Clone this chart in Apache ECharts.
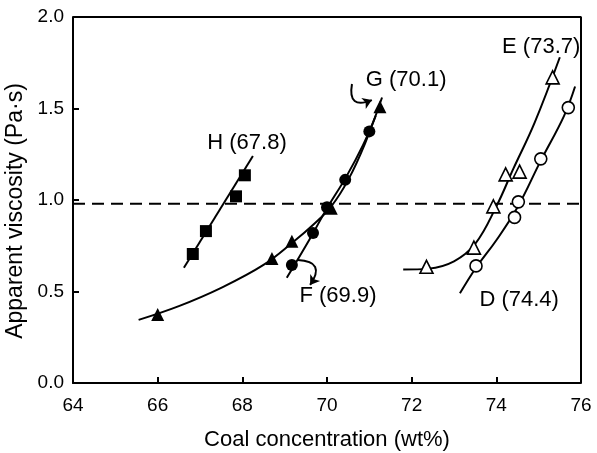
<!DOCTYPE html>
<html><head><meta charset="utf-8">
<script src="https://cdn.jsdelivr.net/npm/echarts@6/dist/echarts.min.js"></script>
<style>html,body{margin:0;background:#fff}#c{width:597px;height:453px}</style>
</head><body><div id="c"></div>
<script>
// ---- data ----
const xLabels = [64, 66, 68, 70, 72, 74, 76];
const yLabels = [0.0, 0.5, 1.0, 1.5, 2.0];

// H (67.8) filled squares + fitted line
const hPoints = [[66.83, 0.705], [67.14, 0.83], [67.85, 1.02], [68.06, 1.135]];
const hCurve  = [[66.62, 0.63], [68.25, 1.24]];

// G (70.1) filled triangles + fitted curve
const gPoints = [[66.0, 0.375], [68.7, 0.68], [69.17, 0.775], [70.1, 0.955], [71.25, 1.51]];
const gCurve  = [[65.55, 0.345], [66.5, 0.42], [67.5, 0.52], [68.5, 0.645], [69.2, 0.77], [69.7, 0.87], [70.1, 0.965], [70.5, 1.11], [70.9, 1.31], [71.3, 1.56]];

// F (69.9) filled circles + fitted curve
const fPoints = [[69.17, 0.645], [69.67, 0.82], [70.0, 0.96], [70.43, 1.11], [71.0, 1.375]];
const fCurve  = [[69.05, 0.575], [69.6, 0.79], [70.0, 0.955], [70.45, 1.125], [70.85, 1.3], [71.15, 1.46]];

// E (73.7) open triangles + fitted curve
const ePoints = [[72.35, 0.635], [73.47, 0.74], [73.93, 0.965], [74.22, 1.14], [74.55, 1.155], [75.33, 1.67]];
const eCurve  = [[71.8, 0.62], [72.4, 0.625], [73.0, 0.665], [73.5, 0.76], [74.0, 0.965], [74.4, 1.17], [74.9, 1.42], [75.5, 1.78]];

// D (74.4) open circles + fitted curve
const dPoints = [[73.52, 0.64], [74.43, 0.905], [74.52, 0.99], [75.05, 1.225], [75.7, 1.505]];
const dCurve  = [[73.14, 0.49], [73.52, 0.63], [74.0, 0.78], [74.5, 0.96], [75.05, 1.215], [75.6, 1.46], [75.86, 1.62]];

// reference level (dashed)
const refLevel = 0.98;

// annotation texts and their anchor positions (data coords)
const annoText = ['H (67.8)', 'G (70.1)', 'F (69.9)', 'E (73.7)', 'D (74.4)'];
const annoPos  = [[68.11, 1.31], [71.87, 1.656], [70.26, 0.475], [75.06, 1.836], [74.54, 0.454]];

// curved arrows [start, end]
const fArrow = [[69.31, 0.672], [69.6, 0.536]];
const gArrow = [[70.59, 1.634], [71.06, 1.546]];

// ---- chart ----
const FONT = "'Liberation Sans', Arial, sans-serif";
const chart = echarts.init(document.getElementById('c'), null, {renderer: 'canvas'});

function curve(data) {
  return {type: 'line', data, smooth: 0.4, symbol: 'none', lineStyle: {color: '#000', width: 2}, silent: true, z: 2};
}
function pts(data, symbol, size, filled) {
  return {type: 'scatter', data, symbol, symbolSize: size, silent: true, z: 3,
    itemStyle: {color: filled ? '#000' : '#fff', borderColor: '#000', borderWidth: filled ? 0 : 1.6, opacity: 1}};
}
function arrow(a, curv) {
  return {type: 'lines', coordinateSystem: 'cartesian2d', silent: true, z: 4,
    symbol: ['none', 'arrow'], symbolSize: 9,
    lineStyle: {color: '#000', width: 2, curveness: curv, opacity: 1},
    data: [{coords: [a[0], a[1]]}]};
}

chart.setOption({
  animation: false,
  backgroundColor: '#fff',
  grid: {left: 73, right: 16, top: 17, bottom: 70, show: false, containLabel: false, outerBoundsMode: 'none'},
  xAxis: {
    type: 'value', min: xLabels[0], max: xLabels[xLabels.length - 1], interval: 2,
    name: 'Coal concentration (wt%)', nameLocation: 'middle', nameGap: 46,
    nameTextStyle: {fontFamily: FONT, fontSize: 22, color: '#000'},
    axisLine: {show: true, lineStyle: {color: '#000', width: 2}},
    axisTick: {show: true, inside: true, length: 6, lineStyle: {color: '#000', width: 2}},
    axisLabel: {fontFamily: FONT, fontSize: 19, color: '#000', margin: 13},
    splitLine: {show: false}
  },
  yAxis: {
    type: 'value', min: yLabels[0], max: yLabels[yLabels.length - 1], interval: 0.5,
    name: 'Apparent viscosity (Pa·s)', nameLocation: 'middle', nameGap: 37,
    nameTextStyle: {fontFamily: FONT, fontSize: 23, color: '#000', padding: [0, 22, 0, 0]},
    axisLine: {show: true, lineStyle: {color: '#000', width: 2}},
    axisTick: {show: true, inside: true, length: 6, lineStyle: {color: '#000', width: 2}},
    axisLabel: {fontFamily: FONT, fontSize: 19, color: '#000', margin: 9, formatter: v => v.toFixed(1)},
    splitLine: {show: false}
  },
  series: [
    // top and right frame
    {type: 'line', data: [[xLabels[0], yLabels[yLabels.length-1]], [xLabels[xLabels.length-1], yLabels[yLabels.length-1]], [xLabels[xLabels.length-1], yLabels[0]]],
     symbol: 'none', lineStyle: {color: '#000', width: 2}, silent: true, z: 1},
    {type: 'line', data: [[xLabels[0], refLevel], [xLabels[xLabels.length-1], refLevel]], symbol: 'none',
     lineStyle: {color: '#000', width: 2, type: [12, 7]}, silent: true, z: 1},
    curve(hCurve), curve(gCurve), curve(fCurve), curve(eCurve), curve(dCurve),
    pts(hPoints, 'rect', 12, true),
    pts(gPoints, 'triangle', 13, true),
    pts(fPoints, 'circle', 12, true),
    pts(ePoints, 'triangle', 13, false),
    pts(dPoints, 'circle', 12, false),
    arrow(fArrow, 0.9),
    arrow(gArrow, -0.9),
    {type: 'scatter', silent: true, symbolSize: 1, itemStyle: {color: 'rgba(0,0,0,0)'}, z: 5,
     data: annoPos.map((p, i) => ({value: p, name: annoText[i]})),
     label: {show: true, position: 'inside', formatter: p => p.name, fontFamily: FONT, fontSize: 22,
             color: '#000', opacity: 1, textBorderWidth: 0}}
  ]
});
</script></body></html>
